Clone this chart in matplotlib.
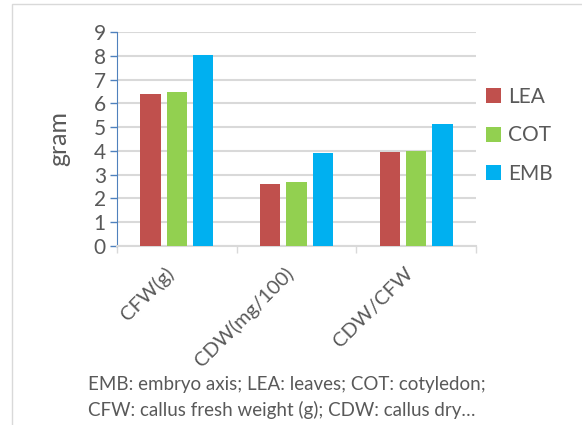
import matplotlib
matplotlib.use('Agg')
from matplotlib import pyplot as plt
from matplotlib.patches import Rectangle
import numpy as np

categories = ['CFW(g)', 'CDW(mg/100)', 'CDW/CFW']
series_names = ['LEA', 'COT', 'EMB']
lea = [6.41, 2.62, 3.94]
cot = [6.48, 2.68, 4.0]
emb = [8.02, 3.9, 5.13]
colors = ['#C0504D', '#92D050', '#00B0F0']
yticks = list(range(10))
caption = ('EMB: embryo axis; LEA: leaves; COT: cotyledon;\n'
           'CFW: callus fresh weight (g); CDW: callus dry\u2026')

plt.rcParams['font.family'] = ['Lato', 'DejaVu Sans']
txt = '#595959'

fig = plt.figure(figsize=(5.82, 4.25), dpi=100)
# chart border
fig.patches.append(Rectangle((12 / 582, -0.1), 1.2, 1 - 3.5 / 425 + 0.1,
                             transform=fig.transFigure, fill=False,
                             edgecolor='#D9D9D9', lw=1))

ax = fig.add_axes([117 / 582, 1 - 246 / 425, (476 - 117) / 582, (246 - 32) / 425])

x = np.arange(len(categories))
w = 0.17
step = 0.22
for i, (vals, name) in enumerate(zip([lea, cot, emb], series_names)):
    ax.bar(x + (i - 1) * step, vals, width=w, color=colors[i], label=name, zorder=3)

ax.set_xlim(-0.5, 2.5)
ax.set_ylim(0, 9)
ax.set_yticks(yticks)
ax.set_yticklabels([str(t) for t in yticks], fontsize=15, color=txt)
ax.yaxis.grid(True, color='#D9D9D9', lw=1.5, zorder=0)
ax.set_axisbelow(True)

ax.set_xticks([-0.5, 0.5, 1.5, 2.5])
ax.set_xticklabels([])
ax.set_xticks(x, minor=True)
ax.set_xticklabels(categories, minor=True, rotation=45, ha='right', va='top',
                   fontsize=14.5, color=txt)
ax.tick_params(axis='x', which='major', length=5, color='#D9D9D9', width=1)
ax.tick_params(axis='x', which='minor', length=0, pad=13)
ax.tick_params(axis='y', length=5, color='#4F81BD', width=1, pad=3)

for s in ['top', 'right']:
    ax.spines[s].set_visible(False)
ax.spines['left'].set_color('#4F81BD')
ax.spines['bottom'].set_color('#D9D9D9')
ax.spines['bottom'].set_linewidth(1.5)

ax.set_ylabel('gram', fontsize=18, color=txt, labelpad=17)

leg = ax.legend(loc='upper left', bbox_to_anchor=(0.975, 0.83), frameon=False,
                handlelength=0.75, handleheight=0.75, handletextpad=0.3,
                labelspacing=0.88, fontsize=15)
for t in leg.get_texts():
    t.set_color(txt)

fig.text(88 / 582, 1 - 416 / 425, caption, fontsize=13.5, color=txt,
         ha='left', va='baseline', linespacing=1.55)

fig.savefig('out.png', dpi=100)
